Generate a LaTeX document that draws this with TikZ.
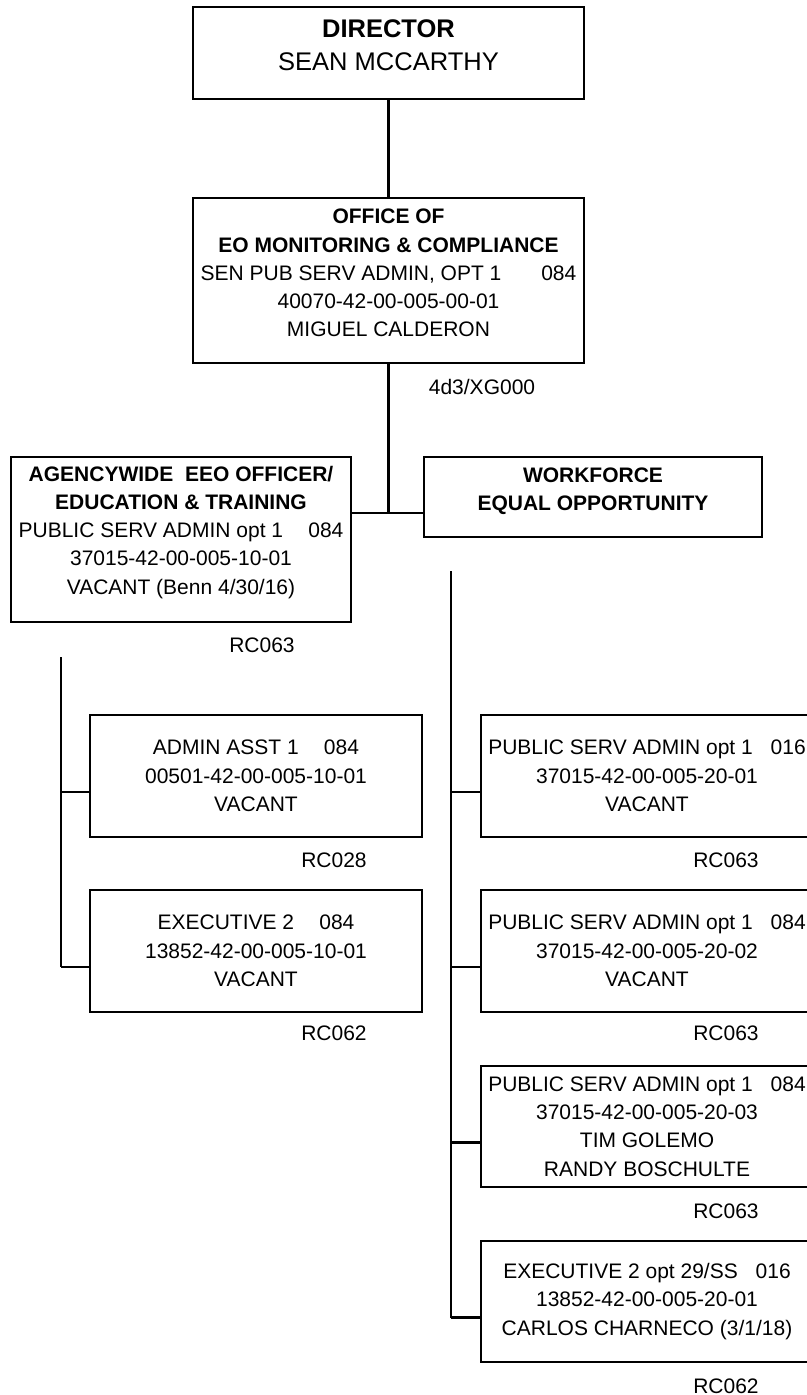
\documentclass[tikz,border=0pt]{standalone}
\usepackage{fontspec}
\setmainfont{Liberation Sans}
\usetikzlibrary{positioning}

\begin{document}
\begin{tikzpicture}[x=1pt, y=-1pt, line width=2.2pt,
    box/.style 2 args={draw, align=center, inner sep=0pt, minimum width=#1, minimum height=#2,
        font=\fontsize{21}{28.3}\selectfont},
    lift/.style={text depth=#1},
    code/.style={font=\fontsize{21}{25}\selectfont, inner sep=0pt}]
        \useasboundingbox (0, 0) rectangle (806, 1395);
        \node [box={391pt}{92pt}, lift=15pt, font=\fontsize{25.5}{33}\selectfont] (D) at (388.5, 53) {\textbf{DIRECTOR}\\SEAN MCCARTHY};
        \node [box={391pt}{165pt}, lift=15pt] (O) at (388.5, 280.5) {\textbf{OFFICE OF}\\\textbf{EO MONITORING \& COMPLIANCE}\\SEN PUB SERV ADMIN, OPT 1\hspace{1.9em}084\\40070-42-00-005-00-01\\MIGUEL CALDERON};
        \node [box={340pt}{165pt}, lift=19pt] (A) at (181, 539.5) {\textbf{AGENCYWIDE\ \ EEO OFFICER/}\\\textbf{EDUCATION \& TRAINING}\\PUBLIC SERV ADMIN opt 1\hspace{1.2em}084\\37015-42-00-005-10-01\\VACANT (Benn 4/30/16)};
        \node [box={338pt}{80pt}, lift=15pt] (W) at (593, 497) {\textbf{WORKFORCE}\\\textbf{EQUAL OPPORTUNITY}};
        \node [box={332pt}{122pt}] (A1) at (256, 776) {ADMIN ASST 1\hspace{1.2em}084\\00501-42-00-005-10-01\\VACANT};
        \node [box={332pt}{122pt}] (A2) at (256, 951) {EXECUTIVE 2\hspace{1.2em}084\\13852-42-00-005-10-01\\VACANT};
        \node [box={332pt}{122pt}] (W1) at (647, 776) {PUBLIC SERV ADMIN opt 1\hspace{0.85em}016\\37015-42-00-005-20-01\\VACANT};
        \node [box={332pt}{122pt}] (W2) at (647, 951) {PUBLIC SERV ADMIN opt 1\hspace{0.85em}084\\37015-42-00-005-20-02\\VACANT};
        \node [box={332pt}{121pt}] (W3) at (647, 1126.5) {PUBLIC SERV ADMIN opt 1\hspace{0.85em}084\\37015-42-00-005-20-03\\TIM GOLEMO\\RANDY BOSCHULTE};
        \node [box={332pt}{121pt}] (W4) at (647, 1301.5) {EXECUTIVE 2 opt 29/SS\hspace{0.85em}016\\13852-42-00-005-20-01\\CARLOS CHARNECO (3/1/18)};
        \node [code] (Ocode) at (482, 387) {4d3/XG000};
        \node [code] (Acode) at (262, 645) {RC063};
        \node [code] (A1code) at (334, 860) {RC028};
        \node [code] (A2code) at (334, 1033) {RC062};
        \node [code] (W1code) at (726, 860) {RC063};
        \node [code] (W2code) at (726, 1033) {RC063};
        \node [code] (W3code) at (726, 1211) {RC063};
        \node [code] (W4code) at (726, 1386) {RC062};
        \coordinate (J) at (388.5, 513);
        \coordinate (AT) at (61, 657);
        \coordinate (WT) at (451, 571);
        \draw (D) -- (O);
        \draw (O) -- (J);
        \draw (A.east |- J) -- (W.west |- J);
        \foreach \n in {A1, A2} {
            \coordinate (\n c) at ([yshift=-16pt]\n.west);
            \draw (\n c) -- (AT |- \n c);
        }
        \foreach \n in {W1, W2, W3, W4} {
            \coordinate (\n c) at ([yshift=-16pt]\n.west);
            \draw (\n c) -- (WT |- \n c);
        }
        \draw (AT) -- (AT |- A2c);
        \draw (WT) -- (WT |- W4c);
\end{tikzpicture}
\end{document}
